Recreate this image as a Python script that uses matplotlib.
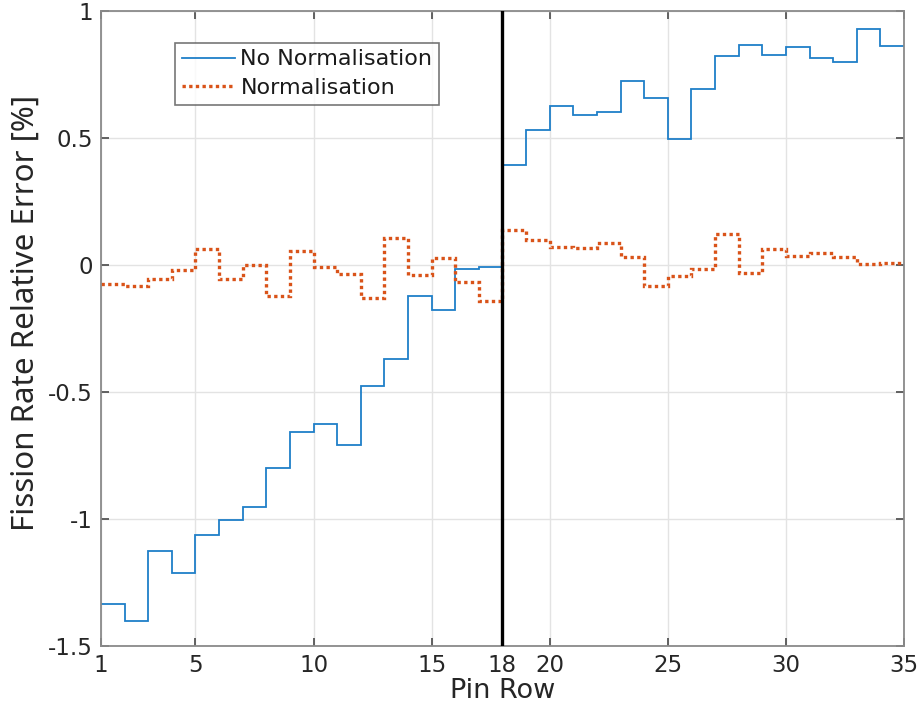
import matplotlib
matplotlib.use('Agg')
import matplotlib.pyplot as plt
import numpy as np

plt.rcParams['axes.unicode_minus'] = False
plt.rcParams['font.family'] = ['DejaVu Sans']

# step edges (pin rows) and values per row
pin_edges = np.arange(1, 36)
no_norm = [-1.335, -1.404, -1.126, -1.213, -1.063, -1.004, -0.954, -0.801, -0.660, -0.626,
           -0.708, -0.479, -0.371, -0.121, -0.178, -0.017, -0.007,
           0.392, 0.530, 0.627, 0.591, 0.603, 0.723, 0.659, 0.496, 0.692,
           0.824, 0.867, 0.826, 0.860, 0.813, 0.798, 0.929, 0.864]
norm = [-0.076, -0.082, -0.054, -0.022, 0.063, -0.054, -0.001, -0.124, 0.053, -0.007,
        -0.036, -0.129, 0.107, -0.039, 0.026, -0.066, -0.141,
        0.138, 0.096, 0.072, 0.067, 0.086, 0.032, -0.082, -0.045, -0.016,
        0.121, -0.033, 0.063, 0.036, 0.047, 0.032, 0.003, 0.008]
split_row = 18
xticks = [1, 5, 10, 15, 18, 20, 25, 30, 35]
yticks = [-1.5, -1, -0.5, 0, 0.5, 1]
ytick_labels = ['-1.5', '-1', '-0.5', '0', '0.5', '1']

fig = plt.figure(figsize=(9.23, 7.17), dpi=100)
ax = fig.add_axes([0.1094, 0.0994, 0.8700, 0.8853])

ax.stairs(no_norm, pin_edges, color='#1f7fc8', lw=1.3, label='No Normalisation', baseline=None)
ax.stairs(norm, pin_edges, color='#D95319', lw=2.4, linestyle=(0, (1, 1)),
          label='Normalisation', baseline=None)
ax.axvline(split_row, color='black', lw=2.4, zorder=5)

ax.set_xlim(1, 35)
ax.set_ylim(-1.5, 1)
ax.set_xticks(xticks)
ax.set_yticks(yticks)
ax.set_yticklabels(ytick_labels)
ax.grid(True, color='#e3e3e3', lw=1)
ax.set_axisbelow(True)

for s in ax.spines.values():
    s.set_color('#8a8a8a')
    s.set_linewidth(1.3)
ax.tick_params(direction='in', length=6, width=1.3, color='#555555',
               top=True, right=True, labelsize=16.5, labelcolor='#262626', pad=6)

ax.set_xlabel('Pin Row', fontsize=19.5, color='#262626', labelpad=1)
ax.set_ylabel('Fission Rate Relative Error [%]', fontsize=22.5, color='#262626',
              family='Noto Sans')
ax.yaxis.set_label_coords(-0.075, 0.524)

leg = ax.legend(loc='upper left', bbox_to_anchor=(0.092, 0.95), fontsize=16,
                frameon=True, fancybox=False, handlelength=2.4, handletextpad=0.25,
                borderpad=0.3, labelspacing=0.4, borderaxespad=0)
leg.get_frame().set_edgecolor('#555555')
leg.get_frame().set_linewidth(1.2)
for t in leg.get_texts():
    t.set_color('#1a1a1a')

fig.savefig('out.png', dpi=100)
